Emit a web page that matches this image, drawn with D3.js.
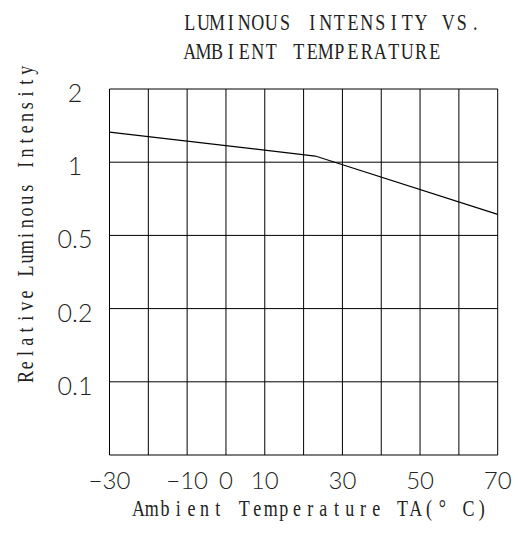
<!DOCTYPE html>
<html>
<head>
<meta charset="utf-8">
<script src="https://cdn.jsdelivr.net/npm/d3@7"></script>
<style>
  body { margin: 0; background: #fff; }
  svg { display: block; }
  .mono { font-family: "Liberation Serif", "DejaVu Serif", serif; fill: #222; }
  .tick-label { font-family: Lato, "Noto Sans", sans-serif; font-weight: 300; fill: #222; }
</style>
</head>
<body>
<div id="chart"></div>
<script>
"use strict";

// data
var temps = [-30, 23, 70];
var intensity = [1.33, 1.06, 0.61];

var yLevels = [0.05, 0.1, 0.2, 0.5, 1, 2];
var yLabels = ["", "0.1", "0.2", "0.5", "1", "2"];
var xGrid = [-30, -20, -10, 0, 10, 20, 30, 40, 50, 60, 70];
var xLabels = [-30, -10, 0, 10, 30, 50, 70];

var width = 518, height = 540;
var plotLeft = 109.5, plotRight = 497.7, plotTop = 89, plotBottom = 455;

var svg = d3.select("#chart")
    .append("svg")
    .attr("width", width)
    .attr("height", height);

var x = d3.scaleLinear()
    .domain([-30, 70])
    .range([plotLeft, plotRight]);

// equally spaced log levels -> piecewise log scale
var step = (plotBottom - plotTop) / (yLevels.length - 1);
var y = d3.scaleLog()
    .domain(yLevels)
    .range(yLevels.map(function (d, i) { return plotBottom - i * step; }));

var grid = svg.append("g").attr("stroke", "#000").attr("stroke-width", 1);

grid.selectAll("line.v")
    .data(xGrid)
    .enter().append("line")
    .attr("class", "v")
    .attr("x1", function (d) { return x(d); })
    .attr("x2", function (d) { return x(d); })
    .attr("y1", plotTop)
    .attr("y2", plotBottom);

grid.selectAll("line.h")
    .data(yLevels)
    .enter().append("line")
    .attr("class", "h")
    .attr("x1", plotLeft)
    .attr("x2", plotRight)
    .attr("y1", function (d) { return y(d); })
    .attr("y2", function (d) { return y(d); });

var line = d3.line()
    .x(function (d, i) { return x(temps[i]); })
    .y(function (d) { return y(d); });

svg.append("path")
    .datum(intensity)
    .attr("d", line)
    .attr("fill", "none")
    .attr("stroke", "#000")
    .attr("stroke-width", 1.2);

// y tick labels
svg.append("g").selectAll("text")
    .data(yLevels)
    .enter().append("text")
    .attr("class", "tick-label")
    .attr("x", 75)
    .attr("y", function (d) { return y(d) + 13; })
    .attr("text-anchor", "middle")
    .attr("font-size", 25)
    .text(function (d, i) { return yLabels[i]; });

// x tick labels
svg.append("g").selectAll("text")
    .data(xLabels)
    .enter().append("text")
    .attr("class", "tick-label")
    .attr("x", function (d) { return x(d); })
    .attr("y", 489)
    .attr("text-anchor", "middle")
    .attr("font-size", 24)
    .text(function (d) { return d < 0 ? "\u2212" + Math.abs(d) : d; });

// fixed-pitch, horizontally squeezed serif text: one centred glyph per cell
var squeeze = 0.8;
function monoText(parent, str, x0, y0, pitch, size) {
    var xs = str.split("").map(function (c, i) {
        return ((x0 + pitch * (i + 0.5)) / squeeze).toFixed(1);
    });
    return parent.append("text")
        .attr("class", "mono")
        .attr("transform", "scale(" + squeeze + ",1)")
        .attr("x", xs.join(" "))
        .attr("y", y0)
        .attr("text-anchor", "middle")
        .attr("font-size", size)
        .text(str);
}

monoText(svg, "LUMINOUS INTENSITY VS.", 183, 30, 13.6, 22.5);
monoText(svg, "AMBIENT TEMPERATURE", 183, 59, 13.6, 22.5);
monoText(svg, "Ambient Temperature TA(\u00b0 C)", 132, 516, 13.2, 22.5);

var yTitle = svg.append("g").attr("transform", "translate(33,383) rotate(-90)");
monoText(yTitle, "Relative Luminous Intensity", 0, 0, 11.8, 22.5);
</script>
</body>
</html>
